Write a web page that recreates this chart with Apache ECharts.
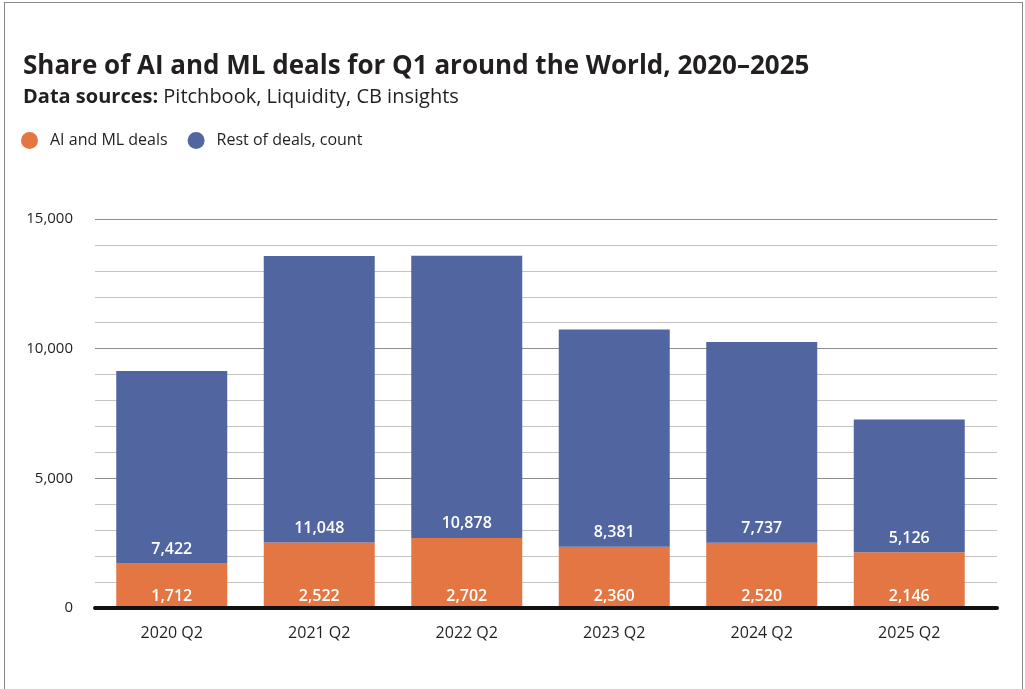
<!DOCTYPE html>
<html>
<head>
<meta charset="utf-8">
<script src="https://cdn.jsdelivr.net/npm/echarts@6/dist/echarts.min.js"></script>
<style>
html,body{margin:0;padding:0;background:#fff;}
#chart{width:1025px;height:689px;}
#frame{position:absolute;left:4px;top:2px;width:1017px;height:700px;border:1px solid #8a8a8a;pointer-events:none;}
</style>
</head>
<body>
<div id="chart"></div>
<div id="frame"></div>
<script>
const categories = ['2020 Q2', '2021 Q2', '2022 Q2', '2023 Q2', '2024 Q2', '2025 Q2'];
const aiDeals = [1712, 2522, 2702, 2360, 2520, 2146];
const restDeals = [7422, 11048, 10878, 8381, 7737, 5126];
const seriesNames = ['AI and ML deals', 'Rest of deals, count'];

const FONT = '"Open Sans", "Noto Sans", sans-serif';
const TXT = '#231f20';
const fmt = v => Number(v).toLocaleString('en-US');

const chart = echarts.init(document.getElementById('chart'), null, {renderer: 'canvas'});
chart.setOption({
  animation: false,
  textStyle: {fontFamily: FONT},
  title: {
    text: 'Share of AI and ML deals for Q1 around the World, 2020\u20132025',
    subtext: '{b|Data sources:} Pitchbook, Liquidity, CB insights',
    left: 18,
    top: 49,
    itemGap: 7,
    textStyle: {fontFamily: FONT, fontSize: 26, fontWeight: 'bold', color: TXT},
    subtextStyle: {
      fontFamily: FONT, fontSize: 20, color: TXT,
      rich: {b: {fontFamily: FONT, fontSize: 20, fontWeight: 'bold', color: TXT}}
    }
  },
  legend: {
    left: 16,
    top: 127,
    icon: 'circle',
    itemWidth: 31,
    itemHeight: 17,
    itemGap: 20,
    textStyle: {fontFamily: FONT, fontSize: 16, color: TXT},
    data: seriesNames
  },
  color: ['#e47644', '#5165a0'],
  grid: [
    {left: 98, right: 42, top: 219, bottom: 81, containLabel: false},
    {left: 95, right: 28, top: 219, bottom: 81, containLabel: false}
  ],
  xAxis: [
    {
      gridIndex: 0,
      type: 'category',
      data: categories,
      axisLine: {show: false},
      axisTick: {show: false},
      axisLabel: {fontFamily: FONT, fontSize: 16, color: TXT, margin: 17}
    },
    {
      gridIndex: 1,
      type: 'value',
      min: 0,
      max: 1,
      axisLine: {show: true, onZero: false, lineStyle: {color: '#111', width: 4}},
      axisTick: {show: false},
      axisLabel: {show: false},
      splitLine: {show: false},
      z: 5
    }
  ],
  yAxis: [
    {
      gridIndex: 0,
      type: 'value',
      min: 0,
      max: 15000,
      interval: 1000,
      show: false,
      splitLine: {show: false}
    },
    {
      gridIndex: 1,
      type: 'value',
      min: 0,
      max: 15000,
      interval: 1000,
      axisLine: {show: false},
      axisTick: {show: false},
      axisLabel: {
        fontFamily: FONT, fontSize: 15, color: TXT, margin: 22,
        formatter: v => (v % 5000 === 0 ? fmt(v) : '')
      },
      splitLine: {
        show: true,
        lineStyle: {color: ['#8c8c8c', '#c4c4c4', '#c4c4c4', '#c4c4c4', '#c4c4c4'], width: 1}
      }
    }
  ],
  series: [
    {
      name: seriesNames[0],
      type: 'bar',
      xAxisIndex: 0,
      yAxisIndex: 0,
      stack: 'deals',
      data: aiDeals,
      barWidth: 111,
      label: {
        show: true, position: 'insideBottom', distance: 4,
        color: '#fff', fontFamily: FONT, fontSize: 16, fontWeight: 600,
        formatter: p => fmt(p.value)
      }
    },
    {
      name: seriesNames[1],
      type: 'bar',
      xAxisIndex: 0,
      yAxisIndex: 0,
      stack: 'deals',
      data: restDeals,
      barWidth: 111,
      label: {
        show: true, position: 'insideBottom', distance: 6,
        color: '#fff', fontFamily: FONT, fontSize: 16, fontWeight: 600,
        formatter: p => fmt(p.value)
      }
    }
  ]
});
</script>
</body>
</html>
